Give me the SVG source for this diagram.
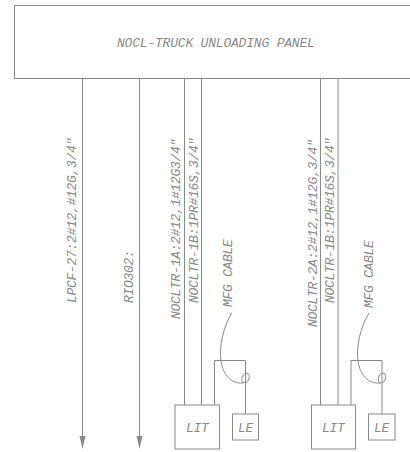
<svg xmlns="http://www.w3.org/2000/svg" width="410" height="452" viewBox="0 0 410 452">
<style>
.l{fill:none;stroke:#8a8a8a;stroke-width:1}
text{font-family:"Liberation Mono","Courier New",monospace;font-style:italic;fill:#8a8a8a;font-size:13px;letter-spacing:-.3px}
#panel text{letter-spacing:-.2px}
</style>
<g id="panel"><rect class="l" x="14.500" y="5.500" width="400" height="73"/><text x="117" y="47">NOCL-TRUCK UNLOADING PANEL</text></g>
<g id="connectors">
<path class="l" d="M82.500 78V436M139.500 78V436"/>
<path class="l" d="M184.500 78V405M201.500 78V405M320.500 78V405M338 78V405"/>
<path class="l" d="M214.500 405V360.500H245.500V414"/>
<path class="l" d="M351 405V360.500H382V414"/>
<path class="l" d="M231.500 313C223 328 219 347 221 361C223 375 231 384 243 383"/>
<path class="l" d="M369 313C360 328 356 347 358 361C360 375 368 384 380 383"/>
<ellipse class="l" cx="245.500" cy="378" rx="3.500" ry="5" transform="rotate(20 245.500 378)"/>
<ellipse class="l" cx="382" cy="378" rx="3.500" ry="5" transform="rotate(20 382 378)"/>
<path d="M79.500 436L85.500 436L82.500 449Z M136.500 436L142.500 436L139.500 449Z" fill="#8a8a8a"/>
</g>
<g id="lit1"><rect class="l" x="175" y="405" width="44.500" height="44"/><text x="186" y="432">LIT</text></g>
<g id="le1"><rect class="l" x="232.500" y="414" width="26" height="26"/><text x="238" y="432">LE</text></g>
<g id="lit2"><rect class="l" x="311.500" y="405" width="44" height="44"/><text x="322" y="432">LIT</text></g>
<g id="le2"><rect class="l" x="368.500" y="414" width="26.500" height="26"/><text x="374" y="432">LE</text></g>
<g id="labels">
<text transform="translate(76 303) rotate(-90)">LPCF-27:2#12,#12G,3/4"</text>
<text transform="translate(132.500 303) rotate(-90)">RIO302:</text>
<text transform="translate(180 319) rotate(-90)">NOCLTR-1A:2#12,1#12G3/4"</text>
<text transform="translate(197.500 303) rotate(-90)">NOCLTR-1B:1PR#16S,3/4"</text>
<text transform="translate(232 307) rotate(-90)">MFG CABLE</text>
<text transform="translate(316.500 327) rotate(-90)">NOCLTR-2A:2#12,1#12G,3/4"</text>
<text transform="translate(334 303) rotate(-90)">NOCLTR-1B:1PR#16S,3/4"</text>
<text transform="translate(373 308) rotate(-90)">MFG CABLE</text>
</g>
</svg>
